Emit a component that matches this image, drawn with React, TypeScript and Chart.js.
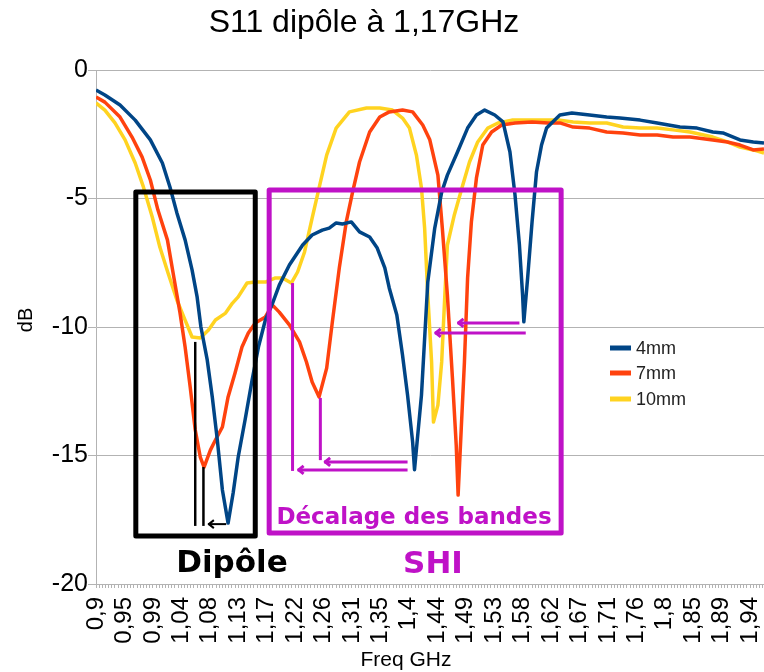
import React, { useEffect, useRef } from 'react';
import { Chart, registerables } from 'chart.js';

Chart.register(...registerables);

const TITLE = 'S11 dipôle à 1,17GHz';
const X_TITLE = 'Freq GHz';
const Y_TITLE = 'dB';
const seriesNames = ['4mm', '7mm', '10mm'];
const seriesColors = ['#004586', '#ff420e', '#ffd320'];
const tickLabels = ['0,9', '0,95', '0,99', '1,04', '1,08', '1,13', '1,17', '1,22', '1,26', '1,31', '1,35', '1,4', '1,44', '1,49', '1,53', '1,58', '1,62', '1,67', '1,71', '1,76', '1,8', '1,85', '1,89', '1,94'];
const X_MIN = 0.9;
const X_MAX = 1.957;
const X_STEP = 0.005;
const LABEL_EVERY = 9;

const freq4 = [0.9, 0.914, 0.938, 0.962, 0.986, 1.005, 1.017, 1.028, 1.041, 1.052, 1.06, 1.066, 1.076, 1.084, 1.092, 1.1, 1.109, 1.117, 1.125, 1.136, 1.147, 1.157, 1.168, 1.179, 1.19, 1.206, 1.227, 1.242, 1.258, 1.269, 1.28, 1.29, 1.304, 1.317, 1.333, 1.345, 1.357, 1.364, 1.376, 1.385, 1.393, 1.401, 1.404, 1.415, 1.425, 1.436, 1.447, 1.456, 1.472, 1.488, 1.502, 1.515, 1.531, 1.544, 1.555, 1.563, 1.57, 1.575, 1.577, 1.583, 1.59, 1.597, 1.605, 1.613, 1.621, 1.634, 1.653, 1.681, 1.708, 1.729, 1.761, 1.788, 1.824, 1.851, 1.876, 1.892, 1.919, 1.94, 1.957];
const db4 = [-0.78, -0.97, -1.36, -1.95, -2.72, -3.62, -4.55, -5.56, -6.61, -7.78, -8.83, -10.0, -11.28, -12.72, -14.4, -16.34, -17.63, -16.46, -15.06, -13.6, -12.06, -10.78, -9.73, -9.1, -8.37, -7.59, -6.81, -6.42, -6.23, -6.15, -5.95, -5.99, -5.91, -6.3, -6.5, -6.93, -7.7, -8.48, -9.53, -11.09, -12.65, -14.47, -15.55, -12.65, -8.25, -6.15, -4.75, -4.09, -3.19, -2.26, -1.75, -1.56, -1.75, -2.02, -3.19, -4.86, -6.81, -8.75, -9.8, -8.09, -5.91, -3.97, -2.92, -2.26, -2.06, -1.75, -1.67, -1.75, -1.83, -1.87, -1.95, -2.06, -2.22, -2.26, -2.41, -2.45, -2.72, -2.8, -2.84];

const freq7 = [0.9, 0.914, 0.938, 0.957, 0.973, 0.986, 0.998, 1.013, 1.022, 1.033, 1.041, 1.049, 1.057, 1.065, 1.071, 1.081, 1.089, 1.1, 1.109, 1.12, 1.131, 1.141, 1.152, 1.168, 1.179, 1.19, 1.206, 1.222, 1.233, 1.242, 1.253, 1.265, 1.274, 1.285, 1.296, 1.306, 1.317, 1.333, 1.349, 1.364, 1.385, 1.401, 1.417, 1.428, 1.441, 1.448, 1.456, 1.464, 1.47, 1.473, 1.478, 1.483, 1.488, 1.494, 1.502, 1.512, 1.526, 1.542, 1.563, 1.59, 1.615, 1.634, 1.655, 1.681, 1.708, 1.734, 1.761, 1.788, 1.813, 1.84, 1.876, 1.899, 1.919, 1.94, 1.957];
const db7 = [-1.05, -1.25, -1.83, -2.61, -3.39, -4.28, -5.45, -6.61, -7.9, -9.46, -10.78, -12.33, -14.0, -15.06, -15.45, -14.79, -14.4, -13.89, -12.72, -11.79, -10.78, -10.23, -9.84, -9.61, -9.14, -9.42, -9.92, -10.58, -11.36, -12.14, -12.72, -11.6, -9.8, -7.7, -5.91, -4.75, -3.58, -2.41, -1.83, -1.63, -1.56, -1.63, -2.14, -2.7, -4.09, -6.15, -8.75, -11.98, -14.6, -16.54, -13.93, -11.36, -8.09, -5.91, -4.2, -2.92, -2.41, -2.14, -2.06, -2.02, -2.06, -2.06, -2.22, -2.26, -2.41, -2.45, -2.53, -2.53, -2.61, -2.61, -2.72, -2.8, -2.92, -3.11, -3.07];

const freq10 = [0.9, 0.914, 0.93, 0.946, 0.962, 0.975, 0.989, 1.001, 1.014, 1.028, 1.041, 1.052, 1.065, 1.078, 1.089, 1.105, 1.116, 1.125, 1.139, 1.152, 1.168, 1.184, 1.195, 1.209, 1.219, 1.23, 1.242, 1.253, 1.265, 1.28, 1.301, 1.328, 1.349, 1.369, 1.385, 1.396, 1.407, 1.415, 1.42, 1.425, 1.431, 1.434, 1.441, 1.447, 1.452, 1.456, 1.467, 1.479, 1.491, 1.504, 1.52, 1.536, 1.558, 1.583, 1.615, 1.634, 1.655, 1.681, 1.708, 1.734, 1.761, 1.788, 1.813, 1.84, 1.876, 1.899, 1.919, 1.94, 1.957];
const db10 = [-1.28, -1.56, -2.06, -2.72, -3.62, -4.55, -5.72, -6.89, -7.9, -8.95, -9.73, -10.39, -10.43, -10.12, -9.73, -9.46, -9.07, -8.83, -8.29, -8.25, -8.25, -8.09, -8.09, -8.29, -7.86, -7.08, -5.76, -4.59, -3.31, -2.26, -1.63, -1.48, -1.48, -1.56, -1.87, -2.26, -3.31, -4.59, -6.15, -8.75, -11.36, -13.7, -13.04, -11.36, -8.75, -6.81, -5.64, -4.59, -3.58, -2.8, -2.26, -2.06, -1.95, -1.95, -1.95, -1.95, -2.02, -2.06, -2.06, -2.22, -2.26, -2.26, -2.33, -2.41, -2.61, -2.8, -3.0, -3.11, -3.23];

// annotation geometry in data units (GHz, dB)
const PURPLE = '#bf12c7';
const blackBox = { x0: 0.963, x1: 1.152, y0: -4.75, y1: -18.13 };
const purpleBox = { x0: 1.174, x1: 1.636, y0: -4.67, y1: -18.02 };
const blackGuides = [
  { x: 1.057, y0: -10.58, y1: -17.74 },
  { x: 1.07, y0: -15.45, y1: -17.74 },
];
const blackArrows = [{ from: 1.106, to: 1.077, y: -17.67 }];
const purpleGuides = [
  { x: 1.211, y0: -8.29, y1: -15.6 },
  { x: 1.255, y0: -12.76, y1: -15.18 },
];
const purpleArrows = [
  { from: 1.393, to: 1.261, y: -15.25 },
  { from: 1.393, to: 1.219, y: -15.56 },
  { from: 1.57, to: 1.472, y: -9.84 },
  { from: 1.58, to: 1.436, y: -10.23 },
];

const SANS = "'Liberation Sans', Arial, sans-serif";
const BOLD = "'DejaVu Sans', 'Liberation Sans', sans-serif";

const decor = {
  id: 'decor',
  afterDatasetsDraw(chart: any) {
    const { ctx, scales } = chart;
    const X = (v: number) => scales.x.getPixelForValue(v);
    const Y = (v: number) => scales.y.getPixelForValue(v);
    ctx.save();
    ctx.lineJoin = 'round';
    ctx.lineCap = 'butt';

    const box = (b: any, color: string) => {
      ctx.strokeStyle = color;
      ctx.lineWidth = 5;
      ctx.strokeRect(X(b.x0), Y(b.y0), X(b.x1) - X(b.x0), Y(b.y1) - Y(b.y0));
    };
    const guide = (g: any, color: string, w: number) => {
      ctx.strokeStyle = color;
      ctx.lineWidth = w;
      ctx.beginPath();
      ctx.moveTo(X(g.x), Y(g.y0));
      ctx.lineTo(X(g.x), Y(g.y1));
      ctx.stroke();
    };
    const arrow = (a: any, color: string, w: number) => {
      const x1 = X(a.from), x2 = X(a.to), y = Y(a.y);
      ctx.strokeStyle = color;
      ctx.lineWidth = w;
      ctx.beginPath();
      ctx.moveTo(x1, y);
      ctx.lineTo(x2, y);
      ctx.stroke();
      ctx.beginPath();
      ctx.moveTo(x2 + 6, y - 4);
      ctx.lineTo(x2 + 1, y);
      ctx.lineTo(x2 + 6, y + 4);
      ctx.stroke();
    };

    box(blackBox, '#000');
    box(purpleBox, PURPLE);
    blackGuides.forEach((g) => guide(g, '#000', 2.5));
    blackArrows.forEach((a) => arrow(a, '#000', 2));
    purpleGuides.forEach((g) => guide(g, PURPLE, 3));
    purpleArrows.forEach((a) => arrow(a, PURPLE, 3));

    // annotation texts
    ctx.textAlign = 'center';
    ctx.textBaseline = 'alphabetic';
    ctx.fillStyle = PURPLE;
    ctx.font = `bold 23px ${BOLD}`;
    ctx.fillText('Décalage des bandes', 414, 524);
    ctx.fillStyle = '#000';
    ctx.font = `bold 31px ${BOLD}`;
    ctx.fillText('Dipôle', 232, 572);
    ctx.fillStyle = PURPLE;
    ctx.font = `bold 31px ${BOLD}`;
    ctx.fillText('SHI', 433, 573);
    ctx.restore();
  },
  afterDraw(chart: any) {
    const { ctx } = chart;
    ctx.save();
    // title
    ctx.fillStyle = '#000';
    ctx.textAlign = 'center';
    ctx.textBaseline = 'alphabetic';
    ctx.font = `32px ${SANS}`;
    ctx.fillText(TITLE, 364, 32);
    // axis titles
    ctx.font = `21px ${SANS}`;
    ctx.fillText(X_TITLE, 406, 666);
    ctx.save();
    ctx.translate(32, 320);
    ctx.rotate(-Math.PI / 2);
    ctx.font = `20px ${SANS}`;
    ctx.fillText(Y_TITLE, 0, 0);
    ctx.restore();
    // legend
    const rows = [348, 373, 399];
    ctx.textAlign = 'left';
    ctx.textBaseline = 'middle';
    ctx.font = `18px ${SANS}`;
    seriesNames.forEach((name, i) => {
      ctx.strokeStyle = seriesColors[i];
      ctx.lineWidth = 5;
      ctx.beginPath();
      ctx.moveTo(610, rows[i]);
      ctx.lineTo(631, rows[i]);
      ctx.stroke();
      ctx.fillStyle = '#222';
      ctx.fillText(name, 636, rows[i] + 1);
    });
    ctx.restore();
  },
};

export default function App() {
  const ref = useRef<HTMLCanvasElement>(null);
  useEffect(() => {
    const series = [
      { f: freq4, d: db4 },
      { f: freq7, d: db7 },
      { f: freq10, d: db10 },
    ];
    const chart = new Chart(ref.current as HTMLCanvasElement, {
      type: 'line',
      data: {
        datasets: series.map((s, i) => ({
          label: seriesNames[i],
          data: s.f.map((f, k) => ({ x: f, y: s.d[k] })),
          borderColor: seriesColors[i],
          backgroundColor: seriesColors[i],
          borderWidth: 3.5,
          pointRadius: 0,
          tension: 0,
          borderJoinStyle: 'round',
          fill: false,
        })),
      },
      options: {
        responsive: false,
        animation: false,
        layout: { padding: { top: 70, left: 0, right: 0, bottom: 0 } },
        plugins: {
          legend: { display: false },
          title: { display: false },
          tooltip: { enabled: false },
        },
        scales: {
          x: {
            type: 'linear',
            min: X_MIN,
            max: X_MAX,
            afterBuildTicks: (axis: any) => {
              const t: any[] = [];
              for (let i = 0; X_MIN + i * X_STEP <= X_MAX + 1e-9; i++) t.push({ value: X_MIN + i * X_STEP });
              axis.ticks = t;
            },
            afterFit: (s: any) => {
              s.height = 88;
              s.paddingLeft = 0;
              s.paddingRight = 0;
            },
            ticks: {
              autoSkip: false,
              minRotation: 90,
              maxRotation: 90,
              padding: 9,
              color: '#000',
              font: { family: SANS, size: 24 },
              callback: (_v: any, index: number) =>
                index % LABEL_EVERY === 0 ? tickLabels[index / LABEL_EVERY] ?? '' : '',
            },
            grid: { drawOnChartArea: false, drawTicks: true, tickLength: 4, color: '#b3b3b3' },
            border: { display: true, color: '#b3b3b3' },
          },
          y: {
            type: 'linear',
            min: -20,
            max: 0,
            afterFit: (s: any) => {
              s.width = 96;
            },
            ticks: {
              stepSize: 5,
              padding: 0,
              color: '#000',
              font: { family: SANS, size: 25 },
            },
            grid: { color: '#b3b3b3', tickLength: 8 },
            border: { display: true, color: '#b3b3b3' },
          },
        },
      },
      plugins: [decor],
    } as any);
    return () => chart.destroy();
  }, []);
  return (
    <div style={{ position: 'absolute', left: 0, top: 0, width: 764, height: 672, background: '#fff' }}>
      <canvas ref={ref} width={764} height={672} style={{ display: 'block', width: 764, height: 672 }} />
    </div>
  );
}
